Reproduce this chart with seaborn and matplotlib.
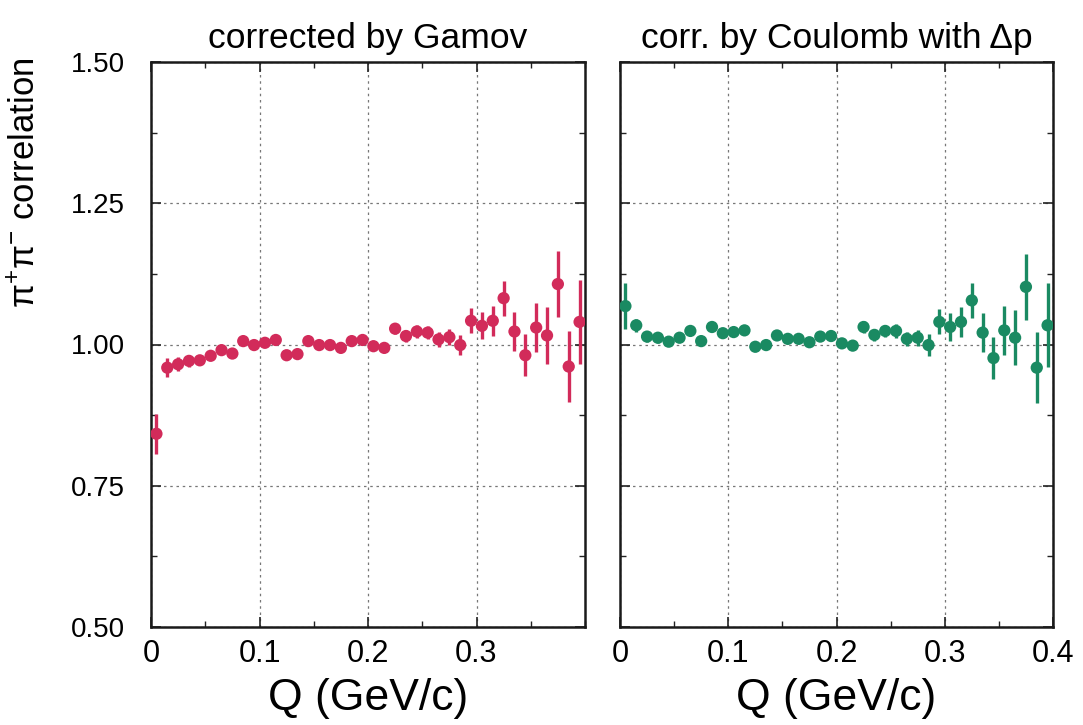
import numpy as np
import pandas as pd
import matplotlib
matplotlib.use("Agg")
import matplotlib.pyplot as plt
from matplotlib.ticker import MultipleLocator
import seaborn as sns

# ---- data ----
q_bins = [0.005, 0.015, 0.025, 0.035, 0.045, 0.055, 0.065, 0.075, 0.085, 0.095,
          0.105, 0.115, 0.125, 0.135, 0.145, 0.155, 0.165, 0.175, 0.185, 0.195,
          0.205, 0.215, 0.225, 0.235, 0.245, 0.255, 0.265, 0.275, 0.285, 0.295,
          0.305, 0.315, 0.325, 0.335, 0.345, 0.355, 0.365, 0.375, 0.385, 0.395]

gamov_corr = [0.842, 0.959, 0.965, 0.971, 0.972, 0.980, 0.990, 0.984, 1.006, 0.999,
              1.003, 1.008, 0.981, 0.983, 1.006, 0.999, 0.999, 0.994, 1.006, 1.008,
              0.997, 0.994, 1.028, 1.015, 1.023, 1.021, 1.009, 1.013, 0.999, 1.042,
              1.033, 1.042, 1.082, 1.023, 0.981, 1.030, 1.016, 1.107, 0.961, 1.040]

coulomb_corr = [1.068, 1.034, 1.014, 1.012, 1.005, 1.012, 1.024, 1.006, 1.031, 1.020,
                1.022, 1.025, 0.996, 0.999, 1.016, 1.010, 1.010, 1.004, 1.014, 1.015,
                1.002, 0.998, 1.031, 1.017, 1.024, 1.024, 1.010, 1.012, 0.999, 1.040,
                1.031, 1.040, 1.078, 1.021, 0.976, 1.025, 1.012, 1.102, 0.959, 1.034]

gamov_err = [0.035, 0.017, 0.012, 0.010, 0.008, 0.007, 0.007, 0.007, 0.007, 0.007,
             0.007, 0.007, 0.007, 0.007, 0.007, 0.007, 0.007, 0.007, 0.007, 0.007,
             0.007, 0.007, 0.010, 0.010, 0.011, 0.012, 0.013, 0.014, 0.017, 0.022,
             0.024, 0.027, 0.031, 0.034, 0.037, 0.044, 0.050, 0.058, 0.063, 0.074]

coulomb_err = [0.040, 0.012, 0.010, 0.009, 0.008, 0.007, 0.007, 0.007, 0.007, 0.007,
               0.007, 0.007, 0.007, 0.007, 0.007, 0.007, 0.007, 0.007, 0.007, 0.007,
               0.007, 0.007, 0.010, 0.010, 0.011, 0.012, 0.013, 0.014, 0.019, 0.022,
               0.024, 0.027, 0.031, 0.034, 0.037, 0.044, 0.049, 0.059, 0.063, 0.074]

panel_titles = ["corrected by Gamov", "corr. by Coulomb with \u0394p"]
x_label = "Q (GeV/c)"
y_label = r"$\mathrm{\pi}^{+}\mathrm{\pi}^{-}$ correlation"
y_ticks = [0.50, 0.75, 1.00, 1.25, 1.50]
x_ticks_left = [0, 0.1, 0.2, 0.3]
x_ticks_right = [0, 0.1, 0.2, 0.3, 0.4]

# ---- style ----
sns.set_theme(style="ticks")
plt.rcParams["font.family"] = ["Liberation Sans", "DejaVu Sans"]
plt.rcParams["mathtext.fontset"] = "custom"
plt.rcParams["mathtext.rm"] = "Liberation Sans"
plt.rcParams["mathtext.it"] = "Liberation Sans:italic"
for k in ["text.color", "axes.labelcolor", "xtick.color", "ytick.color"]:
    plt.rcParams[k] = "black"

red = "#d22b5a"
green = "#1a8a62"

fig = plt.figure(figsize=(10.83, 7.25), dpi=100)
ax1 = fig.add_axes([151 / 1083, 1 - 627 / 725, 434 / 1083, 565 / 725])
ax2 = fig.add_axes([620 / 1083, 1 - 627 / 725, 433 / 1083, 565 / 725])

df1 = pd.DataFrame({"Q": q_bins, "C": gamov_corr, "err": gamov_err})
df2 = pd.DataFrame({"Q": q_bins, "C": coulomb_corr, "err": coulomb_err})

for ax, df, col, title, xt in [(ax1, df1, red, panel_titles[0], x_ticks_left),
                               (ax2, df2, green, panel_titles[1], x_ticks_right)]:
    ax.errorbar(df["Q"], df["C"], yerr=df["err"], fmt="none", ecolor=col,
                elinewidth=2.4, capsize=0, zorder=3)
    sns.scatterplot(data=df, x="Q", y="C", ax=ax, color=col, s=78,
                    edgecolor="none", zorder=4, legend=False)
    ax.set_xlim(0, 0.4)
    ax.set_ylim(0.5, 1.5)
    ax.set_xticks(xt)
    ax.set_xticklabels([("0" if v == 0 else f"{v:.1f}") for v in xt])
    ax.set_yticks(y_ticks)
    ax.xaxis.set_minor_locator(MultipleLocator(0.05))
    ax.yaxis.set_minor_locator(MultipleLocator(0.125))
    ax.grid(True, which="major", linestyle=(0, (2, 3)), color="#777777",
            linewidth=0.9)
    ax.tick_params(which="both", direction="in", top=True, right=True,
                   color="#222222")
    ax.tick_params(which="major", length=7, width=1.2)
    ax.tick_params(axis="x", which="major", labelsize=22, pad=9)
    ax.tick_params(axis="y", which="major", labelsize=20, pad=19)
    ax.tick_params(which="minor", length=4, width=1.0)
    for sp in ax.spines.values():
        sp.set_linewidth(1.8)
        sp.set_color("#1a1a1a")
    ax.set_title(title, fontsize=25.5, pad=10)
    ax.set_xlabel(x_label, fontsize=32, labelpad=6)

ax1.set_yticklabels([f"{v:.2f}" for v in y_ticks])
ax1.set_ylabel(y_label, fontsize=25)
ax1.yaxis.set_label_coords(-0.25, 0.786)
ax2.set_ylabel("")
ax2.set_yticklabels([])

fig.savefig("out.png", dpi=100)
